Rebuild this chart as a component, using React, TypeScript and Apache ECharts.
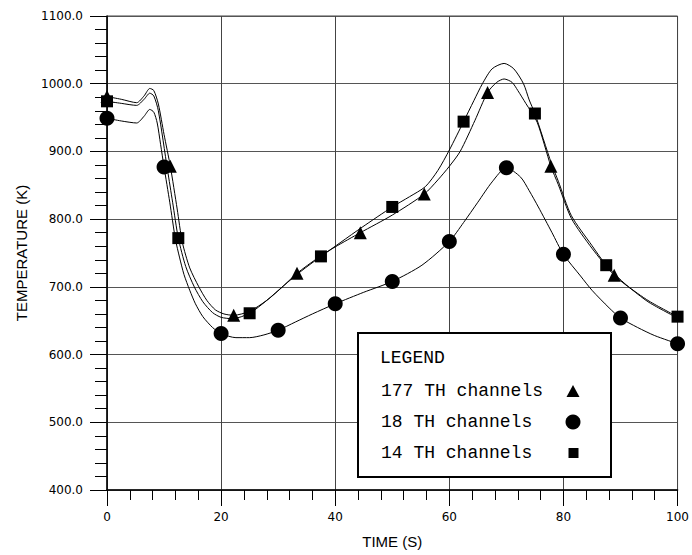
import React, { useEffect, useRef } from "react";
import * as echarts from "echarts";

// 177 TH channels curve
const t177 = [0, 2.5, 5.2, 6.5, 7.5, 8.2, 9.0, 10.0, 11.1, 12.3, 13.2, 14.5, 16.1, 17.5, 19, 20.5, 22.2, 25, 28, 30.5, 33.3, 37, 40, 44.4, 50, 55.6, 58, 60, 61.9, 64.5, 66.7, 68.3, 69.6, 71, 72, 73.4, 75.4, 77.8, 79.1, 81.4, 85, 88.9, 92, 95, 100];
const v177 = [981, 977, 972, 982, 993, 990, 970, 925, 878, 815, 766, 728, 700, 680, 666, 660, 658, 664, 680, 698, 720, 743, 759, 780, 806, 837, 858, 878, 900, 946, 987, 1002, 1007, 1002, 990, 971, 943, 878, 851, 801, 757, 717, 696, 677, 654];
const m177t = [0, 11.1, 22.2, 33.3, 44.4, 55.6, 66.7, 77.8, 88.9];
const m177v = [981, 878, 658, 720, 780, 837, 987, 878, 717];

// 18 TH channels curve
const t18 = [0, 2.5, 5.2, 6.5, 7.5, 8.2, 8.8, 9.4, 10, 11, 12, 12.7, 13.5, 14.5, 15.5, 16.8, 18.5, 20, 22.6, 25, 27.5, 30, 33, 36, 40, 45, 50, 55.2, 60, 62.5, 65, 67.5, 70, 72.5, 74, 75.6, 78, 80, 83, 85, 88, 90, 93, 96, 100];
const v18 = [949, 945, 942, 952, 962, 958, 942, 910, 877, 825, 770, 744, 718, 695, 675, 656, 640, 631, 625, 625, 629, 636, 648, 660, 675, 692, 708, 732, 767, 795, 825, 855, 876, 862, 842, 818, 780, 748, 716, 695, 669, 654, 640, 628, 616];
const m18t = [0, 10, 20, 30, 40, 50, 60, 70, 80, 90, 100];
const m18v = [949, 877, 631, 636, 675, 708, 767, 876, 748, 654, 616];

// 14 TH channels curve
const t14 = [0, 2.5, 5.2, 6.5, 7.5, 8.2, 9.0, 10.6, 11.5, 12.5, 13.8, 15.3, 16.8, 18.5, 20, 22, 25, 28, 31, 34, 37.5, 41, 44.7, 50, 53, 55.8, 58, 60, 62.5, 64.3, 65.8, 67.5, 69.6, 71.3, 73, 74, 75, 77.9, 79.1, 81.4, 85, 87.5, 91, 95, 100];
const v14 = [974, 971, 968, 977, 986, 982, 960, 873, 825, 772, 730, 700, 678, 662, 655, 653, 661, 680, 702, 723, 745, 766, 788, 818, 833, 848, 872, 902, 944, 975, 1000, 1022, 1030, 1022, 1000, 976, 956, 882, 856, 805, 761, 732, 703, 679, 656];
const m14t = [0, 12.5, 25, 37.5, 50, 62.5, 75, 87.5, 100];
const m14v = [974, 772, 661, 745, 818, 944, 956, 732, 656];

const legendLabels = ["177 TH channels", "18 TH channels", "14 TH channels"];

const zip = (a: number[], b: number[]) => a.map((x, i) => [x, b[i]]);

export default function App() {
  const ref = useRef<HTMLDivElement>(null);
  useEffect(() => {
    document.body.style.margin = "0";
    const chart = echarts.init(ref.current!, null, { renderer: "svg" });
    const lineStyle = { color: "#000", width: 1 };
    const lineSeries = (d: number[][]) => ({
      type: "line",
      data: d,
      smooth: 0.25,
      symbol: "none",
      lineStyle,
      z: 3,
    });
    const markSeries = (d: number[][], symbol: string, size: number) => ({
      type: "scatter",
      data: d,
      symbol,
      symbolSize: size,
      itemStyle: { color: "#000", opacity: 1 },
      emphasis: { disabled: true },
      z: 4,
    });
    const monoFont = "Liberation Mono";
    const lx = 381;
    const rows = [391, 422, 453];
    chart.setOption({
      animation: false,
      backgroundColor: "#fff",
      grid: { left: 107, right: 12, top: 16, bottom: 65, show: true, borderColor: "#444", borderWidth: 1 },
      xAxis: {
        type: "value",
        min: 0,
        max: 100,
        interval: 20,
        axisLine: { onZero: false, lineStyle: { color: "#000", width: 1.5 } },
        axisTick: { length: 16, lineStyle: { color: "#000", width: 1 } },
        minorTick: { show: true, splitNumber: 5, length: 10, lineStyle: { color: "#000", width: 1 } },
        splitLine: { show: true, lineStyle: { color: "#444", width: 1 } },
        axisLabel: { margin: 21, fontFamily: "DejaVu Sans", fontSize: 12, color: "#000" },
        name: "TIME (S)",
        nameLocation: "middle",
        nameGap: 44,
        nameTextStyle: { fontFamily: "Liberation Sans", fontSize: 15, color: "#000" },
      },
      yAxis: {
        type: "value",
        min: 400,
        max: 1100,
        interval: 100,
        axisLine: { onZero: false, lineStyle: { color: "#000", width: 1.5 } },
        axisTick: { length: 17, lineStyle: { color: "#000", width: 1 } },
        minorTick: { show: true, splitNumber: 5, length: 12, lineStyle: { color: "#000", width: 1 } },
        splitLine: { show: true, lineStyle: { color: "#555", width: 1 } },
        axisLabel: {
          margin: 24,
          fontFamily: "DejaVu Sans",
          fontSize: 12,
          color: "#000",
          formatter: (v: number) => v.toFixed(1),
        },
        name: "TEMPERATURE (K)",
        nameLocation: "middle",
        nameGap: 78,
        nameTextStyle: { fontFamily: "Liberation Sans", fontSize: 15, color: "#000" },
      },
      series: [
        lineSeries(zip(t177, v177)),
        lineSeries(zip(t18, v18)),
        lineSeries(zip(t14, v14)),
        markSeries(zip(m177t, m177v), "triangle", 13),
        markSeries(zip(m18t, m18v), "circle", 15),
        markSeries(zip(m14t, m14v), "rect", 12),
      ],
      graphic: [
        {
          type: "rect",
          z: 100,
          shape: { x: 358, y: 333, width: 253, height: 144 },
          style: { fill: "#fff", stroke: "#000", lineWidth: 2 },
        },
        {
          type: "text",
          z: 101,
          x: 380,
          y: 358,
          style: { text: "LEGEND", font: `18px "${monoFont}"`, fill: "#000", verticalAlign: "middle" },
        },
        ...legendLabels.map((t, i) => ({
          type: "text",
          z: 101,
          x: lx,
          y: rows[i],
          style: { text: t, font: `18px "${monoFont}"`, fill: "#000", verticalAlign: "middle" },
        })),
        {
          type: "polygon",
          z: 101,
          shape: { points: [[566.5, rows[0] + 6], [579.5, rows[0] + 6], [573, rows[0] - 6]] },
          style: { fill: "#000" },
        },
        { type: "circle", z: 101, shape: { cx: 573, cy: rows[1], r: 7.5 }, style: { fill: "#000" } },
        { type: "rect", z: 101, shape: { x: 568.5, y: rows[2] - 5, width: 10, height: 10 }, style: { fill: "#000" } },
      ],
    });
    return () => chart.dispose();
  }, []);
  return <div ref={ref} style={{ width: 692, height: 555 }} />;
}
